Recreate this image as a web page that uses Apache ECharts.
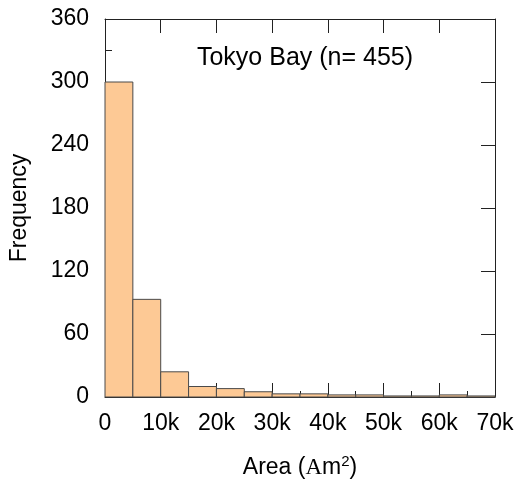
<!DOCTYPE html>
<html>
<head>
<meta charset="utf-8">
<script src="https://cdn.jsdelivr.net/npm/echarts@6/dist/echarts.min.js"></script>
<style>
  html, body { margin: 0; padding: 0; background: #fff; }
  #main { width: 518px; height: 486px; }
</style>
</head>
<body>
<div id="main"></div>
<script>
// histogram bins (Area, m2) and counts
var binStarts = [0, 5000, 10000, 15000, 20000, 25000, 30000, 35000, 40000, 45000, 50000, 55000, 60000, 65000];
var binWidth = 5000;
var counts = [300, 93, 24, 10, 8, 5, 3, 3, 2, 2, 1, 1, 2, 1];
var yTicks = [0, 60, 120, 180, 240, 300, 360];
var xTicks = [0, 10000, 20000, 30000, 40000, 50000, 60000, 70000];
var title = 'Tokyo Bay (n= 455)';

var font = 'Liberation Sans, Arial, sans-serif';
var lineColor = '#222';
var fs = 23;

var chart = echarts.init(document.getElementById('main'));

var data = binStarts.map(function (s, i) { return [s, s + binWidth, counts[i]]; });

function kFmt(v) { return v === 0 ? '0' : (v / 1000) + 'k'; }

// frame axes: ticks point inward, lines not moved onto zero
function frameAxis(pos, extra) {
  var base = {
    type: 'value',
    position: pos,
    axisLine: { show: true, onZero: false, lineStyle: { color: lineColor, width: 1 } },
    axisTick: { show: true, inside: true, length: 14, lineStyle: { color: lineColor } },
    axisLabel: { show: false },
    splitLine: { show: false }
  };
  return Object.assign(base, extra);
}

var option = {
  animation: false,
  title: {
    text: title,
    left: 300,
    textAlign: 'center',
    top: 41,
    textStyle: { fontFamily: font, fontSize: 25, fontWeight: 'normal', color: '#000' }
  },
  grid: { left: 105, right: 23, top: 19, bottom: 89 },
  xAxis: [
    frameAxis('bottom', {
      min: xTicks[0],
      max: xTicks[xTicks.length - 1],
      interval: 10000,
      name: '{t|Area (}{a|A}{t|m}{s|2}{t|)}',
      nameLocation: 'middle',
      nameGap: 57,
      nameTextStyle: {
        rich: {
          t: { fontFamily: font, fontSize: fs, color: '#000' },
          a: { fontFamily: 'Liberation Serif, Times New Roman, serif', fontSize: fs, color: '#000' },
          s: { fontFamily: font, fontSize: 15, color: '#000', verticalAlign: 'top', padding: [0, 0, 12, 0] }
        }
      },
      minorTick: { show: true, splitNumber: 2, length: 6, lineStyle: { color: lineColor } },
      axisLabel: { show: true, formatter: kFmt, fontFamily: font, fontSize: fs, color: '#000', margin: 15 }
    }),
    frameAxis('top', {
      min: xTicks[0],
      max: xTicks[xTicks.length - 1],
      interval: 10000
    })
  ],
  yAxis: [
    frameAxis('left', {
      min: yTicks[0],
      max: yTicks[yTicks.length - 1],
      interval: 60,
      name: 'Frequency',
      nameLocation: 'middle',
      nameGap: 74,
      nameTextStyle: { fontFamily: font, fontSize: fs, color: '#000' },
      minorTick: { show: true, splitNumber: 2, length: 7, lineStyle: { color: lineColor } },
      axisLabel: { show: true, fontFamily: font, fontSize: fs, color: '#000', margin: 16 }
    }),
    frameAxis('right', {
      min: yTicks[0],
      max: yTicks[yTicks.length - 1],
      interval: 60
    })
  ],
  series: [
    {
      type: 'custom',
      xAxisIndex: 0,
      yAxisIndex: 0,
      z: 1,
      renderItem: function (params, api) {
        var p0 = api.coord([api.value(0), api.value(2)]);
        var p1 = api.coord([api.value(1), 0]);
        return {
          type: 'rect',
          shape: { x: p0[0], y: p0[1], width: p1[0] - p0[0], height: p1[1] - p0[1] },
          style: { fill: '#FDC995', stroke: '#4a4a4a', lineWidth: 1 }
        };
      },
      encode: { x: [0, 1], y: 2 },
      data: data
    }
  ]
};

chart.setOption(option);
</script>
</body>
</html>
